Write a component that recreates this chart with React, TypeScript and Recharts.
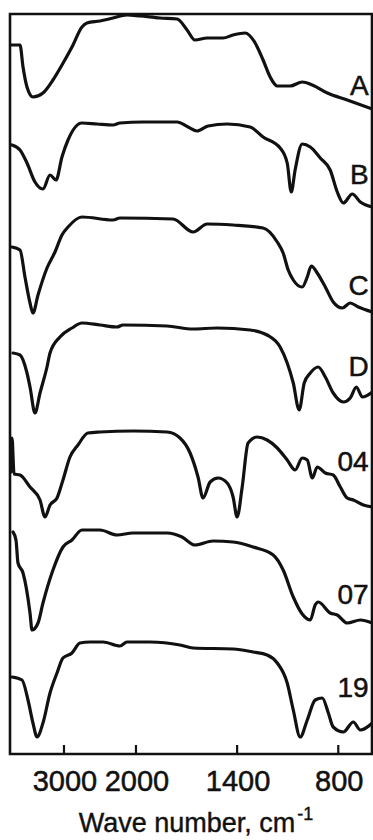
import React from 'react';
import { LineChart, Line, XAxis, YAxis, ReferenceArea, ReferenceDot, Label } from 'recharts';

// ---- Trace data: wavenumber (cm^-1) and transmittance (%) for each sample ----
const waveA = [3736, 3611, 3569, 3514, 3431, 3292, 3153, 3028, 2889, 2750, 2681, 2500, 2319, 2125, 1976, 1857, 1756, 1697, 1650, 1578, 1483, 1424, 1353, 1293, 1246, 1204, 1162, 1085, 1014, 954, 865, 747, 598];
const transA = [69, 69, 47, 27, 17, 21, 34, 49, 67, 87, 91, 93, 96, 99, 98, 96, 95, 84, 74, 76, 76, 79, 81, 71, 54, 37, 28, 28, 32, 29, 21, 14, 5];

const waveB = [3722, 3611, 3514, 3403, 3292, 3194, 3111, 3028, 2944, 2750, 2542, 2319, 2222, 1958, 1756, 1691, 1638, 1572, 1459, 1323, 1246, 1145, 1103, 1079, 1056, 1014, 966, 907, 848, 806, 770, 717, 669, 598];
const transB = [75, 70, 57, 38, 31, 45, 40, 63, 80, 97, 96, 95, 97, 98, 98, 93, 89, 94, 96, 93, 83, 72, 57, 28, 50, 76, 73, 62, 50, 28, 17, 26, 18, 13];

const waveC = [3722, 3611, 3542, 3472, 3431, 3361, 3236, 3125, 3028, 2944, 2750, 2319, 2222, 1780, 1661, 1578, 1424, 1246, 1162, 1127, 1097, 1067, 1014, 984, 960, 925, 877, 830, 776, 729, 681, 598];
const transC = [70, 67, 40, 14, 4, 22, 49, 65, 82, 90, 100, 97, 99, 98, 85, 93, 92, 89, 75, 64, 47, 37, 30, 40, 51, 44, 30, 15, 9, 14, 10, 5];

const waveD = [3708, 3611, 3514, 3472, 3403, 3333, 3236, 3194, 3056, 2889, 2750, 2500, 2264, 2181, 1816, 1661, 1519, 1323, 1222, 1145, 1103, 1067, 1032, 1002, 966, 919, 877, 830, 770, 729, 693, 657, 598];
const transD = [69, 67, 49, 35, 9, 29, 55, 69, 85, 94, 99, 97, 95, 97, 96, 93, 94, 92, 87, 75, 59, 39, 12, 39, 49, 55, 45, 29, 20, 24, 35, 25, 30];

const wave04 = [3736, 3722, 3694, 3611, 3472, 3333, 3264, 3194, 3097, 3014, 2917, 2806, 2667, 2500, 2042, 1816, 1739, 1679, 1632, 1602, 1560, 1513, 1459, 1424, 1400, 1370, 1335, 1281, 1222, 1162, 1103, 1056, 1014, 984, 954, 925, 877, 830, 788, 747, 711, 651, 598];
const trans04 = [58, 92, 56, 55, 43, 30, 13, 25, 32, 50, 73, 85, 97, 98, 99, 98, 92, 77, 53, 32, 48, 52, 47, 33, 13, 43, 87, 93, 90, 82, 70, 60, 72, 70, 52, 63, 57, 55, 43, 32, 30, 25, 23];

const wave07 = [3708, 3667, 3639, 3569, 3472, 3444, 3361, 3292, 3153, 3014, 2889, 2750, 2500, 2264, 2042, 1816, 1727, 1650, 1543, 1424, 1305, 1186, 1127, 1067, 1014, 966, 937, 919, 848, 806, 747, 669, 598];
const trans07 = [96, 88, 65, 55, 15, -2, 5, 25, 58, 81, 88, 98, 98, 93, 95, 95, 91, 83, 87, 86, 81, 73, 58, 31, 14, 8, 23, 26, 15, 13, 5, 8, 5];

const wave19 = [3722, 3583, 3500, 3431, 3375, 3292, 3194, 3097, 3014, 2889, 2778, 2639, 2458, 2222, 2125, 1917, 1739, 1661, 1424, 1305, 1222, 1162, 1103, 1067, 1026, 984, 937, 895, 859, 830, 770, 711, 669, 598];
const trans19 = [63, 60, 40, 17, 3, 17, 47, 67, 82, 87, 97, 98, 98, 94, 98, 98, 95, 92, 91, 88, 85, 77, 57, 30, 3, 20, 40, 42, 27, 13, 8, 18, 10, 17];

// Trace names, vertical stacking offsets and label heights (transmittance units)
const traceNames = ['A', 'B', 'C', 'D', '04', '07', '19'];
const traceOffsets = [640, 534, 437, 332, 224, 126, 14];
const labelLevels = [29, 46, 32, 56, 69, 34, 53];
const labelWave = 620;

// Axis ticks
const tickWaves = [3000, 2000, 1400, 800];

// ---- Axis (scale change at 2000 cm^-1, as on the spectrometer chart) ----
const X_MAX = 3750;
const X_BREAK = 2000;
const X_MIN = 600;
const BREAK_FRAC = 0.348;
const toAxis = (wn: number) =>
  wn >= X_BREAK
    ? (BREAK_FRAC * (X_MAX - wn)) / (X_MAX - X_BREAK)
    : BREAK_FRAC + ((1 - BREAK_FRAC) * (X_BREAK - wn)) / (X_BREAK - X_MIN);

const waves = [waveA, waveB, waveC, waveD, wave04, wave07, wave19];
const trans = [transA, transB, transC, transD, trans04, trans07, trans19];

const seriesData = waves.map((w, k) =>
  w.map((wn, i) => ({ u: toAxis(wn), y: traceOffsets[k] + trans[k][i] }))
);

const FONT = '"Liberation Sans", Arial, Helvetica, sans-serif';
const INK = '#111';

const AxisTick = (props: any) => {
  const { x, y, payload } = props;
  let idx = 0;
  let best = Infinity;
  tickWaves.forEach((w, i) => {
    const d = Math.abs(toAxis(w) - payload.value);
    if (d < best) {
      best = d;
      idx = i;
    }
  });
  return (
    <g>
      <line x1={x} y1={y} x2={x} y2={y - 9} stroke={INK} strokeWidth={2.2} />
      <text x={x + 1} y={y + 37} textAnchor="middle" fontSize={29} fontFamily={FONT} fill={INK} stroke={INK} strokeWidth={0.5}>
        {String(tickWaves[idx])}
      </text>
    </g>
  );
};

const AxisTitle = (props: any) => {
  const vb = props.viewBox || { x: 10, y: 754, width: 362 };
  return (
    <text x={vb.x + vb.width / 2 + 5} y={vb.y + 78} textAnchor="middle" fontSize={27} fontFamily={FONT} fill={INK} stroke={INK} strokeWidth={0.4}>
      Wave number, cm
      <tspan fontSize={18} dx={2} dy={-12}>-1</tspan>
    </text>
  );
};

const makeTraceLabel = (text: string) => (props: any) => {
  const vb = props.viewBox || { x: 0, y: 0 };
  return (
    <text x={vb.x} y={vb.y} dy="0.36em" textAnchor="end" fontSize={28} fontFamily={FONT} fill={INK} stroke={INK} strokeWidth={0.5}>
      {text}
    </text>
  );
};

export default function App() {
  return (
    <div style={{ position: 'absolute', left: 0, top: 0, width: 373, height: 840, background: '#fff' }}>
      <LineChart width={373} height={840} margin={{ top: 14, right: 1, bottom: 0, left: 10 }}>
        <XAxis
          dataKey="u"
          type="number"
          domain={[0, 1]}
          allowDataOverflow
          ticks={tickWaves.map(toAxis)}
          tick={<AxisTick />}
          tickLine={false}
          axisLine={false}
          tickSize={0}
          tickMargin={0}
          height={86}
          interval={0}
        >
          <Label content={<AxisTitle />} />
        </XAxis>
        <YAxis type="number" domain={[0, 740]} hide allowDataOverflow />
        <ReferenceArea x1={0} x2={1} y1={0} y2={740} fill="none" fillOpacity={0} stroke={INK} strokeWidth={2.6} ifOverflow="visible" />
        {seriesData.map((d, k) => (
          <Line
            key={traceNames[k]}
            data={d}
            dataKey="y"
            type="monotone"
            stroke={INK}
            strokeWidth={3.2}
            dot={false}
            activeDot={false}
            isAnimationActive={false}
            strokeLinejoin="round"
            strokeLinecap="round"
          />
        ))}
        {traceNames.map((name, k) => (
          <ReferenceDot
            key={'lbl' + name}
            x={toAxis(labelWave)}
            y={traceOffsets[k] + labelLevels[k]}
            r={0}
            fill="none"
            stroke="none"
            ifOverflow="visible"
            label={{ content: makeTraceLabel(name) } as any}
          />
        ))}
      </LineChart>
    </div>
  );
}
